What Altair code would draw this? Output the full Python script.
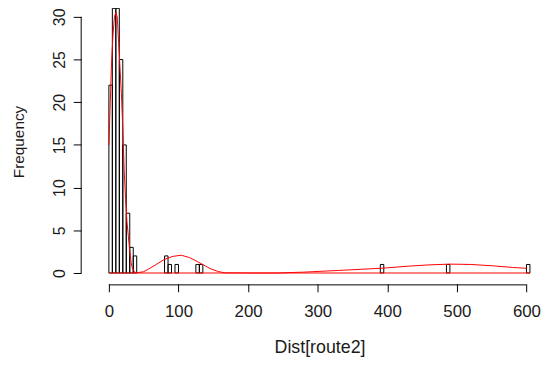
import altair as alt
import pandas as pd

# ---- data ----
bin_start = [0, 5, 10, 15, 20, 25, 30, 35, 80, 85, 95, 125, 130, 390, 485, 600]
bin_count = [22, 31, 31, 25, 15, 7, 3, 2, 2, 1, 1, 1, 1, 1, 1, 1]
bin_width = 5

dens_x = [0, 2, 4, 6, 8, 10, 12, 14, 16, 18, 20, 22, 24, 26, 28, 30, 32, 34, 37, 40,
          50, 57, 68, 80, 92, 104, 116, 128, 138, 147, 157, 166, 200, 242, 280, 330,
          369, 400, 430, 460, 490, 520, 550, 580, 600]
dens_y = [15, 20, 25, 28, 30, 30.5, 30, 27, 24, 21, 17, 12, 8.6, 6, 4.3, 2.5, 1.2, 0.5, 0.1, 0.02,
          0.15, 0.46, 1.0, 1.6, 1.95, 2.08, 1.8, 1.3, 0.85, 0.46, 0.18, 0.02, 0.0, 0.0, 0.1, 0.3,
          0.46, 0.6, 0.8, 0.95, 1.04, 1.0, 0.85, 0.65, 0.55]

x_ticks = [0, 100, 200, 300, 400, 500, 600]
y_ticks = [0, 5, 10, 15, 20, 25, 30]

W, H = 460, 277
x_dom = [-39.8, 613.8]
y_dom = [-1.274, 30.81]

FONT = "Liberation Sans"
TXT = "#1a1a1a"

bars_df = pd.DataFrame({
    "start": bin_start,
    "end": [s + bin_width for s in bin_start],
    "count": bin_count,
    "zero": [0] * len(bin_start),
})
dens_df = pd.DataFrame({"x": dens_x, "y": dens_y})
base_df = pd.DataFrame({"x0": [bin_start[0]], "x1": [bin_start[-1] + bin_width], "y": [0]})
xaxis_df = pd.DataFrame({"x0": [x_ticks[0]], "x1": [x_ticks[-1]]})
yaxis_df = pd.DataFrame({"y0": [y_ticks[0]], "y1": [y_ticks[-1]]})

xs = alt.Scale(domain=x_dom, nice=False, zero=False)
ys = alt.Scale(domain=y_dom, nice=False, zero=False)

x_axis = alt.Axis(
    values=x_ticks, domain=False, grid=False, tickSize=8, tickColor="black", tickWidth=1,
    labelFont=FONT, labelFontSize=17, labelColor=TXT, labelPadding=12, labelAngle=0,
    labelFlush=False, labelOverlap=False,
    title="Dist[route2]", titleFont=FONT, titleFontSize=18, titleFontWeight="normal",
    titleColor=TXT, titleX=241, titleY=69, titleAlign="center", titleBaseline="alphabetic",
)
y_axis = alt.Axis(
    values=y_ticks, domain=False, grid=False, tickSize=8, tickColor="black", tickWidth=1,
    labelFont=FONT, labelFontSize=16, labelColor=TXT, labelPadding=6, labelAngle=270,
    labelAlign="center", labelBaseline="bottom", labelFlush=False, labelOverlap=False,
    title="Frequency", titleFont=FONT, titleFontSize=15.5, titleFontWeight="normal",
    titleColor=TXT, titleX=-58, titleY=133, titleAngle=270, titleAlign="center",
    titleBaseline="alphabetic",
)

bars = alt.Chart(bars_df).mark_bar(
    fill="white", fillOpacity=0, stroke="black", strokeWidth=1
).encode(
    x=alt.X("start:Q", scale=xs, axis=x_axis),
    x2="end:Q",
    y=alt.Y("count:Q", scale=ys, axis=y_axis),
    y2="zero:Q",
)

dens = alt.Chart(dens_df).mark_line(color="red", strokeWidth=1).encode(
    x=alt.X("x:Q", scale=xs, axis=x_axis),
    y=alt.Y("y:Q", scale=ys, axis=y_axis),
)

base = alt.Chart(base_df).mark_rule(color="red", strokeWidth=1).encode(
    x=alt.X("x0:Q", scale=xs, axis=x_axis),
    x2="x1:Q",
    y=alt.Y("y:Q", scale=ys, axis=y_axis),
)

xline = alt.Chart(xaxis_df).mark_rule(color="black", strokeWidth=1).encode(
    x=alt.X("x0:Q", scale=xs, axis=x_axis),
    x2="x1:Q",
    y=alt.value(H + 1),
)
yline = alt.Chart(yaxis_df).mark_rule(color="black", strokeWidth=1).encode(
    y=alt.Y("y0:Q", scale=ys, axis=y_axis),
    y2="y1:Q",
    x=alt.value(0),
)

chart = alt.layer(bars, base, dens, xline, yline).properties(
    width=W, height=H,
    autosize=alt.AutoSizeParams(type="none"),
    padding={"left": 74, "top": 0, "right": 6, "bottom": 74},
    background="white",
).configure_view(stroke=None)

chart.save("out.html", embed_options={"renderer": "svg", "actions": False})
